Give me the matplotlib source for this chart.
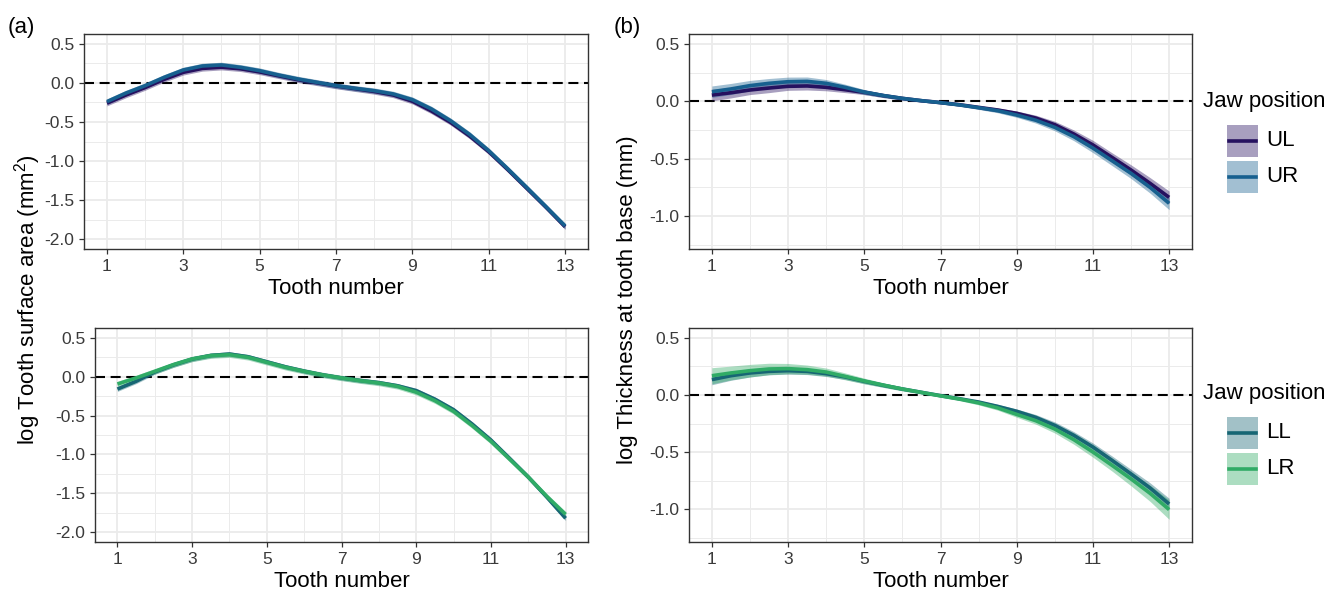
import matplotlib
matplotlib.use("Agg")
import matplotlib.pyplot as plt
from matplotlib.patches import Rectangle
from matplotlib.lines import Line2D
import numpy as np

plt.rcParams['font.family'] = ['Liberation Sans', 'DejaVu Sans']
plt.rcParams['mathtext.fontset'] = 'custom'
plt.rcParams['mathtext.rm'] = 'Liberation Sans'
plt.rcParams['mathtext.it'] = 'Liberation Sans:italic'

# ---------------- data ----------------
tooth = [1, 1.5, 2, 2.5, 3, 3.5, 4, 4.5, 5, 5.5, 6, 6.5, 7, 7.5, 8, 8.5, 9, 9.5,
         10, 10.5, 11, 11.5, 12, 12.5, 13]
xticks = [1, 3, 5, 7, 9, 11, 13]

# (a) upper jaw - log tooth surface area
area_UL = [-0.26, -0.155, -0.06, 0.045, 0.135, 0.185, 0.20, 0.18, 0.14, 0.09, 0.04, 0.0, -0.04,
           -0.075, -0.11, -0.155, -0.235, -0.36, -0.505, -0.68, -0.88, -1.11, -1.35, -1.59, -1.84]
area_UR = [-0.24, -0.13, -0.036, 0.071, 0.165, 0.216, 0.229, 0.199, 0.156, 0.10, 0.05, 0.007, -0.036,
           -0.07, -0.10, -0.142, -0.215, -0.334, -0.484, -0.66, -0.867, -1.10, -1.34, -1.584, -1.83]
area_UL_hw = [0.035] * 25
area_UR_hw = [0.035] * 25

# (a) lower jaw
area_LL = [-0.16, -0.06, 0.06, 0.15, 0.225, 0.272, 0.29, 0.255, 0.19, 0.125, 0.07, 0.022, -0.017,
           -0.05, -0.078, -0.118, -0.18, -0.29, -0.425, -0.61, -0.815, -1.05, -1.29, -1.55, -1.82]
area_LR = [-0.095, -0.017, 0.068, 0.154, 0.227, 0.27, 0.282, 0.248, 0.184, 0.12, 0.068, 0.021, -0.017,
           -0.052, -0.082, -0.125, -0.20, -0.309, -0.446, -0.63, -0.831, -1.06, -1.29, -1.54, -1.77]
area_LL_hw = [0.03] * 25
area_LR_hw = [0.035] * 25

# (b) upper jaw - log thickness at tooth base
thick_UL = [0.054, 0.074, 0.098, 0.115, 0.13, 0.133, 0.121, 0.10, 0.078, 0.049, 0.025, 0.005, -0.012,
            -0.03, -0.053, -0.076, -0.105, -0.146, -0.204, -0.285, -0.38, -0.488, -0.598, -0.714, -0.836]
thick_UR = [0.083, 0.107, 0.136, 0.156, 0.17, 0.173, 0.156, 0.121, 0.08, 0.05, 0.025, 0.005, -0.012,
            -0.032, -0.056, -0.082, -0.12, -0.165, -0.227, -0.308, -0.407, -0.517, -0.627, -0.749, -0.888]
thick_UL_hw = [0.05, 0.045, 0.04, 0.04, 0.035, 0.035, 0.03, 0.025, 0.02, 0.017, 0.015, 0.012, 0.01,
               0.012, 0.015, 0.018, 0.02, 0.025, 0.03, 0.035, 0.04, 0.04, 0.045, 0.05, 0.055]
thick_UR_hw = [0.05, 0.048, 0.045, 0.042, 0.04, 0.038, 0.033, 0.027, 0.022, 0.018, 0.015, 0.012, 0.01,
               0.012, 0.015, 0.018, 0.02, 0.025, 0.03, 0.035, 0.04, 0.042, 0.045, 0.05, 0.055]

# (b) lower jaw
thick_LL = [0.134, 0.168, 0.192, 0.206, 0.212, 0.206, 0.186, 0.157, 0.119, 0.084, 0.052, 0.023, -0.006,
            -0.033, -0.062, -0.10, -0.143, -0.196, -0.266, -0.353, -0.455, -0.571, -0.69, -0.813, -0.953]
thick_LR = [0.168, 0.192, 0.212, 0.227, 0.23, 0.221, 0.2, 0.162, 0.122, 0.086, 0.052, 0.022, -0.008,
            -0.036, -0.07, -0.113, -0.17, -0.225, -0.298, -0.391, -0.499, -0.615, -0.734, -0.86, -1.002]
thick_LL_hw = [0.045, 0.04, 0.035, 0.03, 0.03, 0.028, 0.025, 0.022, 0.02, 0.017, 0.015, 0.012, 0.01,
               0.012, 0.015, 0.018, 0.02, 0.025, 0.03, 0.032, 0.035, 0.038, 0.04, 0.045, 0.05]
thick_LR_hw = [0.07, 0.06, 0.055, 0.05, 0.045, 0.04, 0.035, 0.03, 0.025, 0.02, 0.017, 0.014, 0.012,
               0.014, 0.017, 0.02, 0.025, 0.03, 0.035, 0.04, 0.045, 0.05, 0.06, 0.07, 0.085]

colors = {'UL': '#26115F', 'UR': '#17608F', 'LL': '#176674', 'LR': '#30AB66'}

# ---------------- figure ----------------
W, H = 1344, 596
fig = plt.figure(figsize=(W / 100, H / 100), dpi=100)


def add_ax(l, r, t, b):
    return fig.add_axes([l / W, 1 - b / H, (r - l) / W, (b - t) / H])


def style(ax, ylim, yticks, yminor):
    ax.set_xlim(0.4, 13.6)
    ax.set_ylim(*ylim)
    ax.set_xticks(xticks)
    ax.set_xticks([2, 4, 6, 8, 10, 12], minor=True)
    ax.set_yticks(yticks)
    ax.set_yticklabels([f"{v:.1f}" for v in yticks])
    ax.set_yticks(yminor, minor=True)
    ax.grid(which='major', color='#EBEBEB', lw=1.3, zorder=0)
    ax.grid(which='minor', color='#EBEBEB', lw=0.7, zorder=0)
    ax.set_axisbelow(True)
    ax.tick_params(which='major', length=3.6, width=0.9, color='#333333',
                   labelsize=12.5, labelcolor='#3A3A3A', pad=3.5)
    ax.tick_params(which='minor', length=0)
    for s in ax.spines.values():
        s.set_color('#333333')
        s.set_linewidth(1.0)
    ax.axhline(0, color='black', lw=1.5, ls=(0, (4.8, 2.7)), zorder=1)
    ax.set_xlabel('Tooth number', fontsize=16, labelpad=3)


def draw(ax, series):
    for name, vals, hw in series:
        v = np.asarray(vals)
        h = np.asarray(hw)
        ax.fill_between(tooth, v - h, v + h, color=colors[name], alpha=0.4, lw=0, zorder=2)
        ax.plot(tooth, v, color=colors[name], lw=2.6, solid_capstyle='butt',
                solid_joinstyle='round', zorder=3)


yt_a = [-2.0, -1.5, -1.0, -0.5, 0.0, 0.5]
ym_a = [-1.75, -1.25, -0.75, -0.25, 0.25]
yt_b = [-1.0, -0.5, 0.0, 0.5]
ym_b = [-1.25, -0.75, -0.25, 0.25]

ax1 = add_ax(84, 588, 34, 249)
style(ax1, (-2.125, 0.625), yt_a, ym_a)
draw(ax1, [('UL', area_UL, area_UL_hw), ('UR', area_UR, area_UR_hw)])

ax2 = add_ax(95, 588, 328, 542)
style(ax2, (-2.125, 0.625), yt_a, ym_a)
draw(ax2, [('LL', area_LL, area_LL_hw), ('LR', area_LR, area_LR_hw)])

ax3 = add_ax(689, 1192, 34, 249)
style(ax3, (-1.285, 0.585), yt_b, ym_b)
draw(ax3, [('UL', thick_UL, thick_UL_hw), ('UR', thick_UR, thick_UR_hw)])

ax4 = add_ax(689, 1192, 328, 542)
style(ax4, (-1.285, 0.585), yt_b, ym_b)
draw(ax4, [('LL', thick_LL, thick_LL_hw), ('LR', thick_LR, thick_LR_hw)])

# shared y labels
fig.text(28 / W, 1 - 300 / H, 'log Tooth surface area (mm$^2$)', rotation=90,
         ha='center', va='center', fontsize=16)
fig.text(627 / W, 1 - 300 / H, 'log Thickness at tooth base (mm)', rotation=90,
         ha='center', va='center', fontsize=16)

# panel tags
fig.text(8 / W, 1 - 28 / H, '(a)', ha='left', va='center', fontsize=16)
fig.text(614 / W, 1 - 27 / H, '(b)', ha='left', va='center', fontsize=16)


# legends (drawn in figure pixel space)
def legend(top_title_y, names):
    fig.text(1203 / W, 1 - top_title_y / H, 'Jaw position', ha='left', va='center', fontsize=16)
    key_top = top_title_y + 24
    for i, nm in enumerate(names):
        t = key_top + i * 36
        rect = Rectangle((1227 / W, 1 - (t + 32) / H), 31 / W, 32 / H,
                         transform=fig.transFigure, facecolor=colors[nm], alpha=0.4,
                         edgecolor='none')
        fig.add_artist(rect)
        fig.add_artist(Line2D([1229 / W, 1256 / W], [1 - (t + 16) / H] * 2,
                              transform=fig.transFigure, color=colors[nm], lw=2.6))
        fig.text(1266 / W, 1 - (t + 16) / H, nm, ha='left', va='center', fontsize=16)


legend(101, ['UL', 'UR'])
legend(393, ['LL', 'LR'])

fig.savefig('out.png', dpi=100)
